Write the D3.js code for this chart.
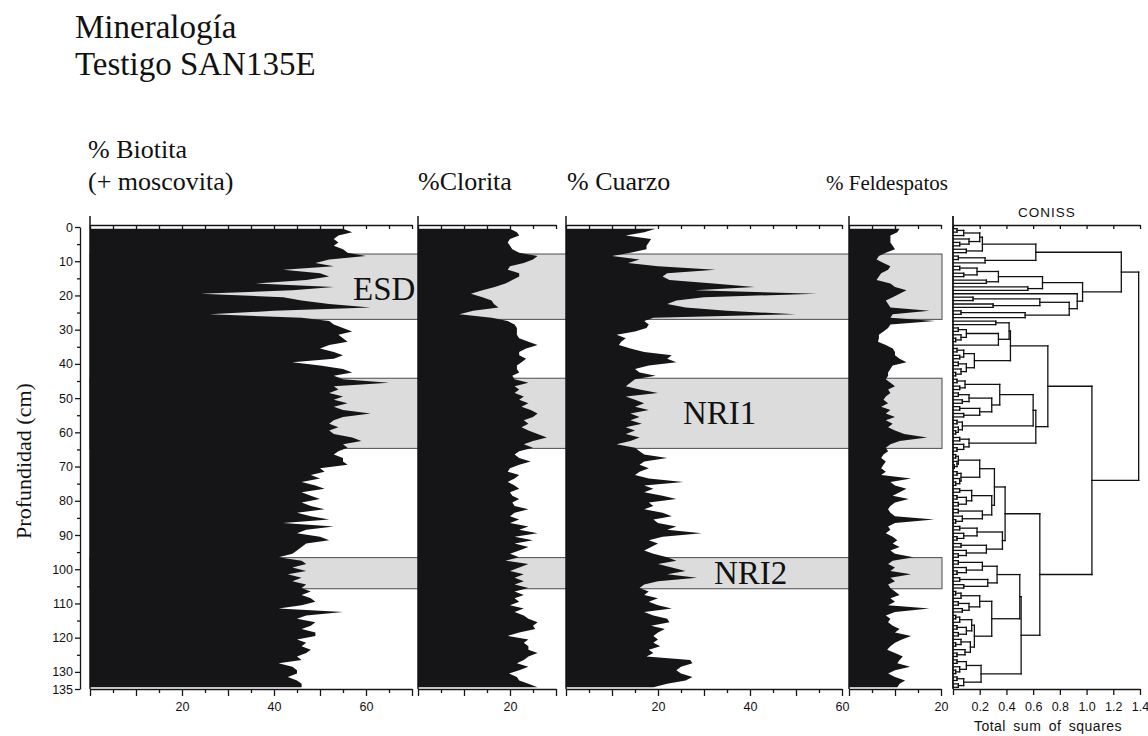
<!DOCTYPE html>
<html><head><meta charset="utf-8">
<script src="https://cdn.jsdelivr.net/npm/d3@7"></script>
<style>
body{margin:0;background:#fff}
svg{display:block}
.serif{font-family:"Liberation Serif","Times New Roman",serif;fill:#111}
.sans{font-family:"Liberation Sans",Arial,sans-serif;fill:#111}
</style>
</head><body>
<svg id="chart" width="1148" height="736"></svg>
<script>
// Sample depths (cm)
const depths = [0.5,1.5,2.5,3.5,4.5,5.5,6.5,7.5,8.5,9.5,10.5,11.5,12.5,13.5,14.5,15.5,16.5,17.5,18.5,19.5,
20.5,21.5,22.5,23.5,24.5,25.5,26.5,27.5,28.5,29.5,30.5,31.5,32.5,33.5,34.5,35.5,36.5,37.5,38.5,39.5,
40.5,41.5,42.5,43.5,44.5,45.5,46.5,47.5,48.5,49.5,50.5,51.5,52.5,53.5,54.5,55.5,56.5,57.5,58.5,59.5,
60.5,61.5,62.5,63.5,64.5,65.5,66.5,67.5,68.5,69.5,70.5,71.5,72.5,73.5,74.5,75.5,76.5,77.5,78.5,79.5,
80.5,81.5,82.5,83.5,84.5,85.5,86.5,87.5,88.5,89.5,90.5,91.5,92.5,93.5,94.5,95.5,96.5,97.5,98.5,99.5,
100.5,101.5,102.5,103.5,104.5,105.5,106.5,107.5,108.5,109.5,110.5,111.5,112.5,113.5,114.5,115.5,116.5,117.5,118.5,119.5,
120.5,121.5,122.5,123.5,124.5,125.5,126.5,127.5,128.5,129.5,130.5,131.5,132.5,133.5,134.5];

// % Biotita (+ moscovita)
const biotita = [55,57,54,53,54,53,55,56,60,52,
49,53,42,50,52,47,36,53,44,24,
42,46,52,61,40,26,46,52,53,55,
57,54,55,56,52,50,53,55,53,44,
50,55,57,53,55,65,53,54,52,55,
53,56,53,55,61,55,53,52,54,52,
53,57,59,55,56,54,53,55,55,56,
50,51,48,50,46,49,51,46,48,50,
46,48,51,45,48,52,42,53,47,45,
50,52,47,46,45,44,41,46,47,44,
47,43,46,44,47,46,48,46,48,49,
46,41,55,47,45,49,48,46,49,49,
45,47,46,48,47,45,46,41,44,45,
45,43,45,46,46];

// % Clorita
const clorita = [20,21.5,22,20,19.5,20,20.5,22,26,25,
23,20,19.5,22,22,20.5,19,16.7,14,11.5,
14,16,16.5,17.5,12,9,16,19.5,21,21.5,
21.5,21.5,22,24,26,23.5,22,22,23.5,22.5,
21.5,21.5,22,20.5,21,24,21,22,21,23,
22,24,22.5,24.5,26,25,23,24,22.5,24,
26,28,25,23,25,22,21,22,24.5,22,
20,19.5,22,21,19.5,21,22,20,20.5,22,
20.5,21,24,21,20,22,20,24,22,26,
21,25,21,24,22,20,22,19,24,22,
20,23,21,23,21,24,21,23,21,22,
20,23,21,23,24,26,25,25.5,22,19.5,
24,23,24,24,26,24,23,21.5,24,22,
19.8,21.5,22,24,26];

// % Cuarzo
const cuarzo = [19.5,17,13,18.5,18,17.5,17.5,14,10,16,
13.5,20,32.5,22,21,22.5,32,41,28,54.5,
30,24,22,26,35,50,19,17,18,17.5,
15,11,13,12,11.5,14,17,23,22,24,
18,15,16,19.5,15,14,13,16,20,13,
15,17,15,18,14,16,14,16.5,13,15,
13,16,14,11,15,16,17,22,17,16,
18,16,15,18,25.5,17,19,17,21,24,
18,19,17,21,23,19,20,24,22,29.5,
21,18,20,18.5,17,19,22,24,20,23,
26,22,28.5,20,17,16,18,17,20,18,
20,23,17,19,22,22.5,18.5,21.5,20,19,
20,19,20.5,18,19,17.5,27,27.5,25,24,
25,27.5,26,22,19];

// % Feldespatos
const feldespatos = [11,10.5,9,9,9,9.5,10,8,6.5,6,
7.5,9,8.5,7,6.5,6,9,10,12.5,11,
9.5,8,8.5,9,17.5,9.5,9,18.7,9,8.5,
7.5,6.5,6.5,6.3,8,9.5,10,10,11,12.5,
9.5,9,8.5,8.5,8,9,10,8.5,9,8,
7.5,8.5,7,9,8,10,8,9.5,8.5,10,
12,17,11,9,8,8.5,7.5,7,8,7.5,
7,8,7,13.5,9,10,12.5,11,9.5,13,
10,9,8.5,9,10,18.5,10,8.5,9,8,
9.5,10.5,9.5,11,9,10,14,9.5,8.5,10,
9,13.5,9,10,8.5,9,10,11,9,10,
8.5,17.5,10,8,9,8.5,9.5,11,10,13.5,
11.5,10,9,8.3,10,11.7,11,10.5,13.3,10,
8.5,10,12.2,11,10.5];

// Zones (cm)
const zoneNames = ["ESD","NRI1","NRI2"];
const zoneTop = [7.9,44.2,96.6];
const zoneBottom = [27.0,64.7,105.7];

// Depth axis ticks
const depthTicks = [0,5,10,15,20,25,30,35,40,45,50,55,60,65,70,75,80,85,90,95,100,105,110,115,120,125,130,135];
const depthLabels = [0,10,20,30,40,50,60,70,80,90,100,110,120,130,135];

// CONISS constrained clustering: [total sum of squares, upper group, lower group]; leaves are sample indices
const conissTree =
[1.39,
  [1.26,
    [0.62,
      [0.22, [0.20, [0.08, [0.03, 0, 1], 2], [0.12, 3, [0.05, 4, 5]]], [0.10, 6, 7]],
      [0.24, [0.04, 8, 9], 10]],
    [0.97,
      [0.67,
        [0.34, [0.18, [0.05, 11, 12], [0.08, 13, 14]], [0.25, 15, 16]],
        [0.56, 17, 18]],
      [0.93, 19,
        [0.87,
          [0.65, [0.15, 20, 21], [0.30, 22, 23]],
          [0.54, [0.06, 24, 25], 26]]]]],
  [1.04,
    [0.71,
      [0.43,
        [0.42, [0.32, 27, 28], [0.34, [0.10, [0.04, 29, 30], [0.06, 31, [0.02, 32, 33]]], 34]],
        [0.16, [0.08, [0.03, 35, 36], [0.05, 37, 38]], [0.10, [0.04, 39, 40], [0.06, 41, [0.02, 42, 43]]]]],
      [0.62,
        [0.60,
          [0.35,
            [0.09, [0.03, 44, 45], [0.05, 46, 47]],
            [0.29, [0.12, [0.04, 48, 49], [0.07, 50, 51]], [0.20, [0.05, 52, 53], [0.08, 54, 55]]]],
          [0.07, [0.03, 56, 57], [0.04, 58, [0.02, 59, 60]]]],
        [0.12, [0.05, 61, 62], [0.08, 63, [0.03, 64, 65]]]]],
    [0.65,
      [0.39,
        [0.31,
          [0.20, [0.04, [0.02, 66, 67], [0.03, 68, [0.01, 69, 70]]], [0.06, [0.03, 71, 72], [0.05, 73, [0.02, 74, 75]]]],
          [0.29, [0.14, [0.05, 76, 77], [0.10, [0.03, 78, 79], [0.04, 80, 81]]], [0.22, [0.04, 82, 83], [0.07, 84, [0.02, 85, 86]]]]],
        [0.37, [0.18, [0.05, 87, 88], [0.08, 89, [0.03, 90, 91]]], [0.25, [0.06, 92, 93], [0.10, 94, [0.04, 95, 96]]]]],
      [0.51,
        [0.50,
          [0.33, [0.22, [0.04, 97, 98], [0.10, 99, [0.03, 100, 101]]], [0.26, [0.05, 102, 103], [0.08, 104, 105]]],
          [0.29,
            [0.20, [0.06, [0.02, 106, 107], 108], [0.12, [0.04, 109, 110], [0.07, 111, 112]]],
            [0.16, [0.14, [0.05, [0.02, 113, 114], 115], [0.10, [0.03, 116, 117], [0.04, 118, 119]]],
                   [0.13, [0.06, 120, [0.02, 121, 122]], [0.09, 123, [0.03, 124, 125]]]]]],
        [0.21, [0.10, [0.03, 126, 127], [0.05, 128, [0.02, 129, 130]]], [0.08, [0.03, 131, 132], [0.04, 133, 134]]]]]]];
const conissTicks = [0,0.2,0.4,0.6,0.8,1.0,1.2,1.4];

// ---------- layout ----------
const svg = d3.select("#chart");
const ink = "#151517";
const yTop = 227, yBot = 689;
const y = d3.scaleLinear().domain([0,135]).range([yTop, yBot]);
const unitPx = 4.6;

const panels = [
  {values: biotita,     max: 70, left: 90,  labels: [20,40,60]},
  {values: clorita,     max: 30, left: 418, labels: [20]},
  {values: cuarzo,      max: 60, left: 566, labels: [20,40,60]},
  {values: feldespatos, max: 20, left: 849, labels: [20]}
];
panels.forEach(p => {
  p.x = d3.scaleLinear().domain([0, p.max]).range([p.left, p.left + p.max*unitPx]);
});

// zone bands (behind the curves)
const bandLeft = panels[0].x(0), bandRight = panels[3].x(20)+1;
const gBands = svg.append("g");
zoneNames.forEach((n,i) => {
  gBands.append("rect")
    .attr("x", bandLeft).attr("y", y(zoneTop[i]))
    .attr("width", bandRight-bandLeft).attr("height", y(zoneBottom[i]) - y(zoneTop[i]))
    .attr("fill", "#dcdcdc").attr("stroke", "#5a5a5a").attr("stroke-width", 1.1);
});

// silhouettes
const samples = depths.map((d,i)=>i);
panels.forEach(p => {
  const area = d3.area()
    .y(i => y(depths[i]))
    .x0(p.x(0))
    .x1(i => p.x(p.values[i]))
    .curve(d3.curveLinear);
  svg.append("path").datum(samples).attr("d", area).attr("fill", ink);
});

// zone labels
const zoneLabelPos = [[353,300],[683,424],[714,584]];
zoneNames.forEach((n,i) => {
  svg.append("text").attr("class","serif")
    .attr("x", zoneLabelPos[i][0]).attr("y", zoneLabelPos[i][1])
    .attr("font-size", 33).text(n);
});

// panel axes
const axisTopY = yTop - 2;
function styleAxis(g){
  g.selectAll("path,line").attr("stroke", ink).attr("stroke-width", 1.3);
  g.selectAll("text").attr("class","sans").attr("font-size", 12.5).attr("fill","#111");
}
panels.forEach(p => {
  const tv = d3.range(0, p.max + 0.001, 5);
  // top
  const gt = svg.append("g").attr("transform", `translate(0,${axisTopY})`)
    .call(d3.axisTop(p.x).tickValues(tv).tickSizeInner(-4).tickSizeOuter(0).tickFormat(""));
  styleAxis(gt);
  // bottom
  const gb = svg.append("g").attr("transform", `translate(0,${yBot})`)
    .call(d3.axisBottom(p.x).tickValues(tv).tickSizeInner(7).tickSizeOuter(0)
      .tickFormat(v => p.labels.includes(v) ? v : ""));
  styleAxis(gb);
  gb.selectAll(".tick line").attr("y2", v => v % 10 === 0 ? 7 : 4);
  gb.selectAll(".tick text").attr("y", 11).attr("dy", "0.9em");
  // left spine
  svg.append("line").attr("x1", p.x(0)).attr("x2", p.x(0))
    .attr("y1", 216).attr("y2", yBot).attr("stroke", ink).attr("stroke-width", 1.5);
});

// depth axis
const gd = svg.append("g").attr("transform", "translate(80,0)")
  .call(d3.axisLeft(y).tickValues(depthTicks).tickSizeInner(5).tickSizeOuter(0)
    .tickFormat(v => depthLabels.includes(v) ? v : ""));
styleAxis(gd);
gd.selectAll(".tick line").attr("x2", v => depthLabels.includes(v) ? -5 : -3);
gd.selectAll(".tick text").attr("x", -7);

// ---------- CONISS ----------
const cx = d3.scaleLinear().domain([0,1.4]).range([953,1140]);
const segs = [];
function layout(node){
  if (typeof node === "number") return {pos: y(depths[node]), h: 0};
  const [h, a, b] = node;
  const A = layout(a), B = layout(b);
  segs.push([cx(A.h), A.pos, cx(h), A.pos]);
  segs.push([cx(B.h), B.pos, cx(h), B.pos]);
  segs.push([cx(h), A.pos, cx(h), B.pos]);
  return {pos: (A.pos + B.pos)/2, h};
}
layout(conissTree);
svg.append("g").selectAll("line").data(segs).join("line")
  .attr("x1", s => s[0]).attr("y1", s => s[1])
  .attr("x2", s => s[2]).attr("y2", s => s[3])
  .attr("stroke", "#111").attr("stroke-width", 1.3).attr("stroke-linecap","square");

const gct = svg.append("g").attr("transform", `translate(0,${axisTopY})`)
  .call(d3.axisTop(cx).tickValues(conissTicks).tickSizeInner(-4).tickSizeOuter(0).tickFormat(""));
styleAxis(gct);
const gcb = svg.append("g").attr("transform", `translate(0,${yBot})`)
  .call(d3.axisBottom(cx).tickValues(conissTicks).tickSizeInner(6).tickSizeOuter(0)
    .tickFormat(v => v === 0 ? "" : d3.format(".1f")(v)));
styleAxis(gcb);
gcb.selectAll(".tick text").attr("y", 11).attr("dy","0.9em");
svg.append("line").attr("x1", cx(0)).attr("x2", cx(0))
  .attr("y1", 216).attr("y2", yBot).attr("stroke", ink).attr("stroke-width", 1.8);

// ---------- text ----------
svg.append("text").attr("class","serif").attr("x",75).attr("y",38).attr("font-size",33).text("Mineralogía");
svg.append("text").attr("class","serif").attr("x",75).attr("y",75).attr("font-size",33).text("Testigo SAN135E");

svg.append("text").attr("class","serif").attr("x",88).attr("y",158).attr("font-size",26).text("% Biotita");
svg.append("text").attr("class","serif").attr("x",88).attr("y",190).attr("font-size",26).text("(+ moscovita)");
svg.append("text").attr("class","serif").attr("x",418).attr("y",190).attr("font-size",26).text("%Clorita");
svg.append("text").attr("class","serif").attr("x",567).attr("y",190).attr("font-size",26).text("% Cuarzo");
svg.append("text").attr("class","serif").attr("x",826).attr("y",190).attr("font-size",21).text("% Feldespatos");

svg.append("text").attr("class","sans").attr("x",1047).attr("y",217).attr("text-anchor","middle")
  .attr("font-size",13.5).attr("letter-spacing",1).text("CONISS");
svg.append("text").attr("class","sans").attr("x",1048).attr("y",731).attr("text-anchor","middle")
  .attr("font-size",14).attr("letter-spacing",0.5).attr("word-spacing",3).text("Total sum of squares");

svg.append("text").attr("class","serif").attr("transform","translate(31,461) rotate(-90)")
  .attr("text-anchor","middle").attr("font-size",22).text("Profundidad (cm)");
</script>
</body></html>
